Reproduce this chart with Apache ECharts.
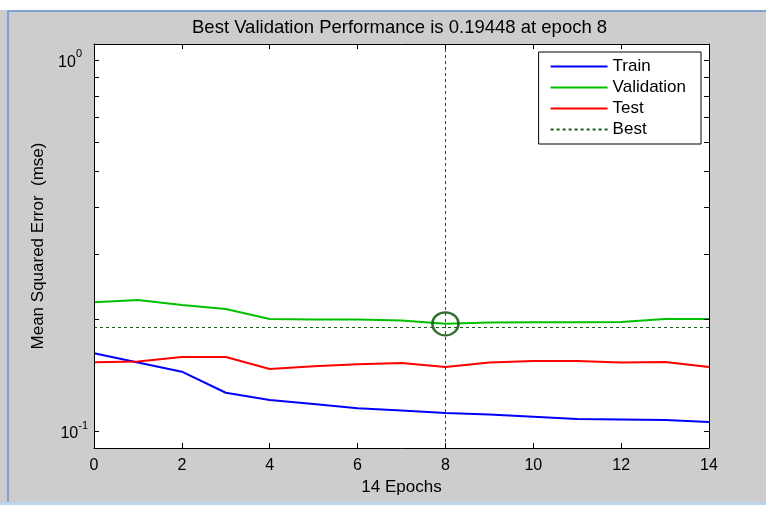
<!DOCTYPE html>
<html>
<head>
<meta charset="utf-8">
<script src="https://cdn.jsdelivr.net/npm/echarts@6/dist/echarts.min.js"></script>
<style>
html,body{margin:0;padding:0;background:#fff;}
#c{width:766px;height:505px;}
</style>
</head>
<body>
<div id="c"></div>
<script>
const epochs = [0,1,2,3,4,5,6,7,8,9,10,11,12,13,14];
const train = [0.1620,0.1530,0.1445,0.1268,0.1213,0.1183,0.1151,0.1136,0.1118,0.1108,0.1093,0.1077,0.1074,0.1071,0.1057];
const validation = [0.2223,0.2255,0.2186,0.2132,0.2003,0.1997,0.1997,0.1985,0.19448,0.1960,0.1965,0.1965,0.1968,0.2003,0.2005];
const test = [0.1532,0.1540,0.1583,0.1583,0.1469,0.1494,0.1513,0.1525,0.1488,0.1529,0.1544,0.1544,0.1531,0.1535,0.1488];
const bestEpoch = 8;
const bestValue = 0.19448;
const yMajorTicks = [0.1,1];
const yMinorTicks = [0.1,0.2,0.3,0.4,0.5,0.6,0.7,0.8,0.9,1];
const titleText = 'Best Validation Performance is 0.19448 at epoch 8';

const pair = arr => epochs.map((e,i)=>[e,arr[i]]);
const FONT = 'Liberation Sans';
const chart = echarts.init(document.getElementById('c'), null, {renderer:'canvas'});

const yLabelFmt = v => {
  const p = Math.round(Math.log10(v));
  return '{b|10}{' + (p < 0 ? 's' : 'sp') + '|' + p + '}';
};
const yRich = {
  b:{fontSize:16, fontFamily:FONT, color:'#000', padding:[6,0,0,0]},
  s:{fontSize:11, fontFamily:FONT, color:'#000', verticalAlign:'top'},
  sp:{fontSize:11, fontFamily:FONT, color:'#000', verticalAlign:'top', padding:[0,6,0,0]}
};

function yAx(pos, show){
  return {
    type:'log', logBase:10, min:0.0900, max:1.104, position:pos, z:5,
    axisLine:{show:true, onZero:false, lineStyle:{color:'#000', width:1}},
    axisTick:{show:true, inside:true, length:5, lineStyle:{color:'#000', width:1}, customValues:yMinorTicks},
    axisLabel:{show:show, customValues:yMajorTicks, formatter:yLabelFmt, rich:yRich, margin:6},
    splitLine:{show:false}, minorTick:{show:false},
    name: show ? 'Mean Squared Error  (mse)' : '',
    nameLocation:'middle', nameGap:45,
    nameTextStyle:{fontSize:17, fontFamily:FONT, color:'#000'}
  };
}
function xAx(pos, show){
  return {
    type:'value', min:0, max:14, interval:2, position:pos, z:5,
    axisLine:{show:true, onZero:false, lineStyle:{color:'#000', width:1}},
    axisTick:{show:true, inside:true, length:5, lineStyle:{color:'#000', width:1}},
    axisLabel:{show:show, fontSize:16, fontFamily:FONT, color:'#000', margin:10},
    splitLine:{show:false},
    name: show ? '14 Epochs' : '',
    nameLocation:'middle', nameGap:21,
    nameTextStyle:{fontSize:17, fontFamily:FONT, color:'#000'}
  };
}

const option = {
  animation:false,
  backgroundColor:'#cdcdcd',
  graphic:[
    {type:'rect', shape:{x:0,y:0,width:766,height:10}, style:{fill:'#ffffff'}, z:-1},
    {type:'rect', shape:{x:7,y:10,width:759,height:2}, style:{fill:'#7ea3d2'}, z:-1},
    {type:'rect', shape:{x:7,y:10,width:2,height:492}, style:{fill:'#7ea3d2'}, z:-1},
    {type:'rect', shape:{x:0,y:502,width:766,height:3}, style:{fill:'#bcd4ee'}, z:-1}
  ],
  title:{text:titleText, left:187, top:13, textStyle:{fontSize:18.5, fontWeight:'normal', fontFamily:FONT, color:'#000'}},
  grid:{left:94, right:57, top:44, bottom:57, show:true, backgroundColor:'#ffffff', borderWidth:0, z:0},
  xAxis:[xAx('bottom', true), xAx('top', false)],
  yAxis:[yAx('left', true), yAx('right', false)],
  legend:{
    data:['Train','Validation','Test','Best'],
    orient:'vertical', right:65, top:52, z:6,
    itemWidth:57, itemHeight:14, itemGap:4,
    padding:[6,15,6,11],
    itemStyle:{opacity:0},
    backgroundColor:'#ffffff', borderColor:'#000', borderWidth:1, borderRadius:0,
    textStyle:{fontSize:17, fontFamily:FONT, color:'#000'},
    selectedMode:false
  },
  series:[
    {name:'Train', type:'line', data:pair(train), symbol:'none', lineStyle:{color:'#0000ff', width:2}, itemStyle:{color:'#0000ff'}, z:3},
    {name:'Validation', type:'line', data:pair(validation), symbol:'none', lineStyle:{color:'#00c000', width:2}, itemStyle:{color:'#00c000'}, z:3},
    {name:'Test', type:'line', data:pair(test), symbol:'none', lineStyle:{color:'#ff0000', width:2}, itemStyle:{color:'#ff0000'}, z:3},
    {name:'Best', type:'line', data:[], symbol:'none',
      lineStyle:{color:'#1a5c1a', width:1, type:[3,3]}, itemStyle:{color:'#1a5c1a'},
      markLine:{silent:true, symbol:'none', label:{show:false},
        lineStyle:{color:'#1a5c1a', width:1, type:[3,3]},
        data:[{xAxis:bestEpoch},{yAxis:bestValue}]}, z:2},
    {name:'BestPoint', type:'scatter', data:[[bestEpoch,bestValue]], symbol:'circle', symbolSize:[26,23],
      itemStyle:{color:'transparent', borderColor:'#004d00', borderWidth:2.5}, z:4, silent:true}
  ]
};
chart.setOption(option);
</script>
</body>
</html>
